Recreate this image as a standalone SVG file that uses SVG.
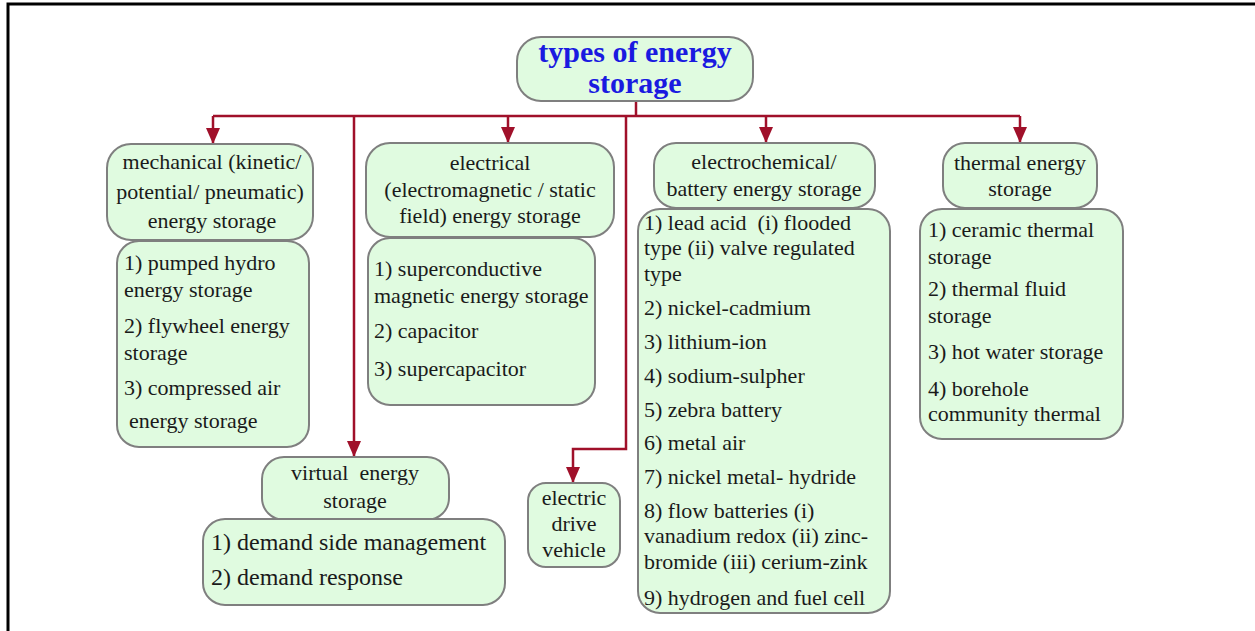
<svg xmlns="http://www.w3.org/2000/svg" width="1255" height="631" viewBox="0 0 1255 631">
<style>
.box{fill:#e0fbe0;stroke:#7f7f7f;stroke-width:2}
.t{font-family:"Liberation Serif","DejaVu Serif",serif;font-size:22px;fill:#1a1a1a;white-space:pre}
.c{text-anchor:middle}
.title{font-family:"Liberation Serif","DejaVu Serif",serif;font-size:30px;font-weight:bold;fill:#1a1ae0;text-anchor:middle}
.conn{fill:none;stroke:#a0102a;stroke-width:2.5}
</style>
<defs>
<marker id="arr" markerWidth="16" markerHeight="14" refX="15" refY="7" orient="auto" markerUnits="userSpaceOnUse" viewBox="0 0 16 14">
<path d="M0,0 L16,7 L0,14 z" fill="#a0102a"/>
</marker>
</defs>
<rect x="0" y="0" width="1255" height="631" fill="#ffffff"/>
<rect x="8" y="4" width="1270" height="650" fill="none" stroke="#000" stroke-width="3"/>

<g id="connectors">
<path class="conn" d="M636,101 V116"/>
<path class="conn" d="M213,116 H1020"/>
<path class="conn" d="M213,116 V143" marker-end="url(#arr)"/>
<path class="conn" d="M508,116 V142" marker-end="url(#arr)"/>
<path class="conn" d="M766,116 V142" marker-end="url(#arr)"/>
<path class="conn" d="M1020,116 V142" marker-end="url(#arr)"/>
<path class="conn" d="M354,116 V456" marker-end="url(#arr)"/>
<path class="conn" d="M626,116 V449 H573 V482" marker-end="url(#arr)"/>
</g>

<g id="root">
<rect class="box" x="517" y="37" width="236" height="64" rx="24"/>
<text class="title" x="635" y="62">types of energy</text>
<text class="title" x="635" y="93">storage</text>
</g>

<g id="mechanical">
<rect class="box" x="107" y="144" width="206" height="96" rx="24"/>
<text class="t c" x="212" y="169">mechanical (kinetic/</text>
<text class="t c" x="210" y="199">potential/ pneumatic)</text>
<text class="t c" x="212" y="228">energy storage</text>
</g>
<g id="mechanical-list">
<rect class="box" x="117" y="241" width="192" height="206" rx="22"/>
<text class="t" x="124" y="270">1) pumped hydro</text>
<text class="t" x="124" y="297">energy storage</text>
<text class="t" x="124" y="333">2) flywheel energy</text>
<text class="t" x="124" y="360">storage</text>
<text class="t" x="124" y="395">3) compressed air</text>
<text class="t" x="129" y="428">energy storage</text>
</g>

<g id="electrical">
<rect class="box" x="366" y="143" width="248" height="94" rx="24"/>
<text class="t c" x="490" y="170">electrical</text>
<text class="t c" x="490" y="197">(electromagnetic / static</text>
<text class="t c" x="490" y="223">field) energy storage</text>
</g>
<g id="electrical-list">
<rect class="box" x="368" y="238" width="227" height="167" rx="22"/>
<text class="t" x="374" y="276">1) superconductive</text>
<text class="t" x="374" y="303">magnetic energy storage</text>
<text class="t" x="374" y="338">2) capacitor</text>
<text class="t" x="374" y="376">3) supercapacitor</text>
</g>

<g id="electrochemical">
<rect class="box" x="654" y="143" width="221" height="65" rx="22"/>
<text class="t c" x="764" y="169">electrochemical/</text>
<text class="t c" x="764" y="196">battery energy storage</text>
</g>
<g id="electrochemical-list">
<rect class="box" x="638" y="209" width="252" height="404" rx="22"/>
<text class="t" x="644" y="230">1) lead acid  (i) flooded</text>
<text class="t" x="644" y="255">type (ii) valve regulated</text>
<text class="t" x="644" y="281">type</text>
<text class="t" x="644" y="315">2) nickel-cadmium</text>
<text class="t" x="644" y="349">3) lithium-ion</text>
<text class="t" x="644" y="383">4) sodium-sulpher</text>
<text class="t" x="644" y="417">5) zebra battery</text>
<text class="t" x="644" y="450">6) metal air</text>
<text class="t" x="644" y="484">7) nickel metal- hydride</text>
<text class="t" x="644" y="518">8) flow batteries (i)</text>
<text class="t" x="644" y="543">vanadium redox (ii) zinc-</text>
<text class="t" x="644" y="569">bromide (iii) cerium-zink</text>
<text class="t" x="644" y="605">9) hydrogen and fuel cell</text>
</g>

<g id="thermal">
<rect class="box" x="943" y="143" width="154" height="65" rx="22"/>
<text class="t c" x="1020" y="170">thermal energy</text>
<text class="t c" x="1020" y="196">storage</text>
</g>
<g id="thermal-list">
<rect class="box" x="920" y="209" width="203" height="230" rx="22"/>
<text class="t" x="928" y="237">1) ceramic thermal</text>
<text class="t" x="928" y="264">storage</text>
<text class="t" x="928" y="296">2) thermal fluid</text>
<text class="t" x="928" y="323">storage</text>
<text class="t" x="928" y="359">3) hot water storage</text>
<text class="t" x="928" y="396">4) borehole</text>
<text class="t" x="928" y="421">community thermal</text>
</g>

<g id="virtual">
<rect class="box" x="262" y="457" width="187" height="63" rx="22"/>
<text class="t c" x="355" y="480">virtual  energy</text>
<text class="t c" x="355" y="508">storage</text>
</g>
<g id="virtual-list">
<rect class="box" x="203" y="519" width="302" height="86" rx="22"/>
<text class="t" x="211" y="550" style="font-size:24px">1) demand side management</text>
<text class="t" x="211" y="585" style="font-size:24px">2) demand response</text>
</g>

<g id="electric-drive-vehicle">
<rect class="box" x="528" y="483" width="92" height="84" rx="18"/>
<text class="t c" x="574" y="505">electric</text>
<text class="t c" x="574" y="531">drive</text>
<text class="t c" x="574" y="557">vehicle</text>
</g>
</svg>
